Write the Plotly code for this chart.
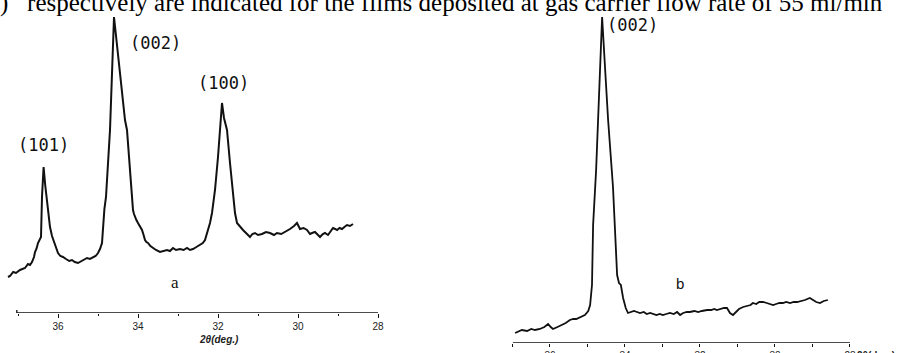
import plotly.graph_objects as go

W, H = 899, 353

# ---- panel a: 2theta (deg) and intensity (arb. units) ----
theta_a = [
    37.25, 37.2, 37.12, 37.05, 36.95, 36.88, 36.825, 36.75, 36.7, 36.65,
    36.6, 36.575, 36.54, 36.5, 36.46, 36.425, 36.4, 36.36, 36.32, 36.275,
    36.24, 36.2, 36.15, 36.11, 36.075, 36.04, 36.0, 35.94, 35.875, 35.8,
    35.72, 35.65, 35.58, 35.5, 35.42, 35.35, 35.275, 35.2, 35.125, 35.06,
    35.0, 34.95, 34.9, 34.875, 34.84, 34.8, 34.75, 34.7, 34.6, 34.5,
    34.4, 34.325, 34.275, 34.2, 34.16, 34.125, 34.1, 34.075, 34.04, 34.0,
    33.95, 33.9, 33.86, 33.825, 33.79, 33.75, 33.69, 33.625, 33.55, 33.45,
    33.36, 33.275, 33.2, 33.125, 33.05, 32.95, 32.86, 32.775, 32.7, 32.625,
    32.54, 32.45, 32.38, 32.325, 32.25, 32.2, 32.15, 32.075, 32.0, 31.95,
    31.9, 31.85, 31.775, 31.7, 31.625, 31.575, 31.525, 31.45, 31.375, 31.3,
    31.2, 31.14, 31.075, 31.0, 30.9, 30.8, 30.7, 30.6, 30.525, 30.42,
    30.325, 30.26, 30.2, 30.1, 30.025, 29.95, 29.86, 29.775, 29.7, 29.65,
    29.575, 29.5, 29.45, 29.38, 29.325, 29.25, 29.18, 29.125, 29.07, 29.025,
    28.96, 28.9, 28.84, 28.775, 28.7, 28.625,
]
intensity_a = [
    36, 37, 41, 40, 43, 44, 45, 49, 48, 51,
    56, 61, 64, 70, 73, 76, 116, 146, 128, 112,
    98, 86, 77, 72, 68, 63, 60, 57, 56, 54,
    52, 53, 51, 50, 52, 53, 55, 54, 56, 57,
    60, 64, 70, 86, 104, 116, 156, 183, 296, 258,
    221, 193, 183, 140, 118, 103, 99, 96, 93, 90,
    86, 83, 78, 73, 71, 70, 67, 65, 63, 61,
    62, 63, 62, 65, 63, 64, 63, 65, 63, 64,
    66, 68, 70, 73, 83, 90, 100, 123, 156, 183,
    210, 195, 183, 150, 116, 100, 90, 86, 83, 80,
    76, 79, 80, 78, 79, 81, 80, 78, 80, 79,
    81, 83, 84, 87, 90, 84, 85, 83, 79, 80,
    81, 78, 76, 79, 80, 78, 82, 85, 84, 83,
    85, 84, 86, 88, 87, 89,
]

# ---- panel b ----
theta_b = [
    36.93, 36.85, 36.75, 36.61, 36.5, 36.4, 36.27, 36.15, 36.05, 35.98,
    35.92, 35.8, 35.68, 35.58, 35.47, 35.38, 35.3, 35.2, 35.07, 34.98,
    34.93, 34.88, 34.85, 34.77, 34.72, 34.61, 34.53, 34.45, 34.32, 34.27,
    34.21, 34.16, 34.11, 34.05, 33.98, 33.92, 33.85, 33.76, 33.68, 33.6,
    33.5, 33.42, 33.33, 33.25, 33.16, 33.07, 32.99, 32.9, 32.8, 32.7,
    32.61, 32.53, 32.45, 32.35, 32.27, 32.15, 32.05, 31.95, 31.81, 31.7,
    31.62, 31.55, 31.45, 31.36, 31.28, 31.2, 31.12, 31.05, 30.96, 30.85,
    30.75, 30.65, 30.59, 30.5, 30.42, 30.32, 30.22, 30.12, 30.05, 29.97,
    29.88, 29.79, 29.7, 29.6, 29.5, 29.41, 29.3, 29.2, 29.07, 28.98,
    28.9, 28.8, 28.7, 28.59,
]
intensity_b = [
    10, 11, 13, 12, 14, 13, 14, 16, 19, 16,
    14, 16, 18, 20, 23, 24, 24, 26, 28, 32,
    38, 58, 118, 173, 223, 326, 274, 223, 156, 118,
    68, 60, 58, 45, 35, 30, 31, 32, 31, 30,
    31, 29, 30, 29, 28, 29, 28, 29, 30, 29,
    31, 28, 30, 31, 31, 32, 31, 32, 33, 33,
    34, 33, 34, 35, 35, 30, 28, 31, 34, 36,
    37, 38, 40, 39, 41, 41, 40, 39, 38, 39,
    40, 40, 41, 40, 41, 41, 42, 43, 45, 43,
    41, 40, 42, 43,
]

tick_vals = [36, 34, 32, 30, 28]
tick_text = ["36", "34", "32", "30", "28"]
minor_vals = [37, 35, 33, 31, 29]

peak_labels_a = ["(101)", "(002)", "(100)"]
peak_label_pos_a = [(36.375, 168), (33.575, 270), (31.875, 230)]
peak_labels_b = ["(002)"]
peak_label_pos_b = [(33.79, 318)]

caption = ")   respectively are indicated for the films deposited at gas carrier flow rate of 55 ml/min"

ink = "#111111"

fig = go.Figure()
fig.add_trace(go.Scatter(x=theta_a, y=intensity_a, mode="lines",
                         line=dict(color=ink, width=2), xaxis="x", yaxis="y",
                         showlegend=False, hoverinfo="skip"))
fig.add_trace(go.Scatter(x=theta_b, y=intensity_b, mode="lines",
                         line=dict(color=ink, width=1.8), xaxis="x2", yaxis="y2",
                         showlegend=False, hoverinfo="skip"))

tickfont = dict(family="Liberation Sans", size=10, color="#222")
common_x = dict(showgrid=False, zeroline=False, showline=False, automargin=False,
                ticks="outside", ticklen=4, tickwidth=1.3, tickcolor=ink,
                tickvals=tick_vals, ticktext=tick_text, tickfont=tickfont,
                minor=dict(tickvals=minor_vals, ticks="outside", ticklen=2,
                           tickwidth=1, tickcolor=ink))
common_y = dict(visible=False, showgrid=False, zeroline=False, automargin=False)

fig.update_layout(
    width=W, height=H, margin=dict(l=0, r=0, t=0, b=0, autoexpand=False),
    paper_bgcolor="white", plot_bgcolor="white",
    xaxis=dict(domain=[0, 380 / W], range=[37.45, 27.95], anchor="y", **common_x),
    yaxis=dict(domain=[40 / H, 1], range=[0, 313], anchor="x", **common_y),
    xaxis2=dict(domain=[500 / W, 860 / W], range=[37.333, 27.733], anchor="y2", **common_x),
    yaxis2=dict(domain=[10 / H, 1], range=[0, 343], anchor="x2", **common_y),
)
fig.update_xaxes(selector=dict(anchor="y2"), ticklen=3,
                 minor=dict(ticklen=3))

# axis base lines
fig.add_shape(type="line", xref="x", yref="y", x0=37.03, x1=28, y0=0, y1=0,
              line=dict(color=ink, width=1.6))
fig.add_shape(type="line", xref="x", yref="y", x0=37.03, x1=37.03, y0=0, y1=3,
              line=dict(color=ink, width=1.3))
fig.add_shape(type="line", xref="x2", yref="y2", x0=36.99, x1=28, y0=0, y1=0,
              line=dict(color=ink, width=1.6))

label_font = dict(family="DejaVu Sans Mono", size=17, color=ink)
for t, (px, py) in zip(peak_labels_a, peak_label_pos_a):
    fig.add_annotation(x=px, y=py, xref="x", yref="y", text=t, showarrow=False,
                       font=label_font)
for t, (px, py) in zip(peak_labels_b, peak_label_pos_b):
    fig.add_annotation(x=px, y=py, xref="x2", yref="y2", text=t, showarrow=False,
                       font=label_font)

fig.add_annotation(x=33.075, y=31, xref="x", yref="y", text="a", showarrow=False,
                   font=dict(family="Liberation Serif", size=17, color=ink))
fig.add_annotation(x=32.53, y=60, xref="x2", yref="y2", text="b", showarrow=False,
                   font=dict(family="Liberation Sans", size=15, color=ink))

axis_title_font = dict(family="Liberation Sans", size=10, color="#222")
fig.add_annotation(x=197 / W, y=1 - 347 / H, xref="paper", yref="paper",
                   text="<i><b>2θ(deg.)</b></i>", showarrow=False, font=axis_title_font)
fig.add_annotation(x=855 / W, y=1 - 348 / H, xref="paper", yref="paper",
                   xanchor="left", yanchor="top",
                   text="<b>2θ(deg.)</b>", showarrow=False, font=axis_title_font)

fig.add_annotation(x=-2 / W, y=1 - 19 / H, xref="paper", yref="paper",
                   xanchor="left", yanchor="bottom", text=caption, showarrow=False,
                   font=dict(family="Liberation Serif", size=25, color="#000"))

fig.write_html("out.html", config={"displayModeBar": False},
               post_script="document.body.style.margin='0';document.body.style.overflow='hidden';")
